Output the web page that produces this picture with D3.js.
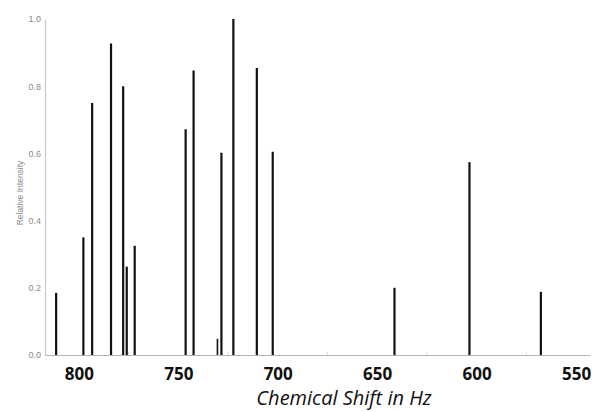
<!DOCTYPE html>
<html>
<head>
<meta charset="utf-8">
<script src="https://cdn.jsdelivr.net/npm/d3@7/dist/d3.min.js"></script>
<style>
  body { margin: 0; background: #fff; }
  svg { display: block; }
</style>
</head>
<body>
<div id="chart"></div>
<script>
// peak positions (Hz) and relative intensities
var shifts = [811.4, 797.7, 793.3, 783.8, 777.7, 775.9, 771.9, 746.3, 742.3, 730.3, 728.3, 722.3, 710.5, 702.5, 641.3, 603.6, 567.7];
var intensities = [0.185, 0.35, 0.75, 0.927, 0.80, 0.263, 0.325, 0.672, 0.847, 0.048, 0.602, 1.0, 0.854, 0.605, 0.20, 0.574, 0.188];
var xTicks = [800, 750, 700, 650, 600, 550];
var xMinorTicks = [775, 725, 675, 625, 575];
var yTicks = [0, 0.2, 0.4, 0.6, 0.8, 1.0];

var margin = {top: 19, right: 2, bottom: 57, left: 45};
var W = 592, H = 412;
var width = W - margin.left - margin.right;
var height = H - margin.top - margin.bottom;

var x = d3.scaleLinear().domain([817, 543]).range([0, width]);
var y = d3.scaleLinear().domain([0, 1]).range([height, 0]);

var svg = d3.select("#chart").append("svg")
    .attr("width", W)
    .attr("height", H)
  .append("g")
    .attr("transform", "translate(" + margin.left + "," + margin.top + ")");

// y axis - thin gray line, small gray labels
var yAxis = d3.axisLeft(y).tickValues(yTicks).tickSize(0).tickPadding(4)
    .tickFormat(d3.format(".1f"));
var gy = svg.append("g").call(yAxis);
gy.select(".domain").attr("stroke", "#c8c8c8").attr("stroke-width", 1.2);
gy.selectAll("text")
    .style("font-family", "Liberation Sans, Arial, sans-serif")
    .style("font-size", "9px")
    .attr("fill", "#8a8a8a");

// minor ticks on x
svg.append("g").selectAll("line")
    .data(xMinorTicks)
    .enter().append("line")
    .attr("x1", function(d) { return x(d); })
    .attr("x2", function(d) { return x(d); })
    .attr("y1", height)
    .attr("y2", height - 3)
    .attr("stroke", "#dcdcdc");

// x axis
var xAxis = d3.axisBottom(x).tickValues(xTicks).tickSize(0).tickPadding(13);
var gx = svg.append("g")
    .attr("transform", "translate(0," + height + ")")
    .call(xAxis);
gx.select(".domain").attr("stroke", "#b4b4b4").attr("stroke-width", 1.2);
gx.selectAll("text")
    .style("font-family", "Open Sans, Liberation Sans, sans-serif")
    .style("font-size", "17px")
    .style("font-weight", "bold")
    .attr("fill", "#111");

// stick spectrum
svg.selectAll(".peak")
    .data(shifts)
    .enter().append("line")
    .attr("class", "peak")
    .attr("x1", function(d) { return x(d); })
    .attr("x2", function(d) { return x(d); })
    .attr("y1", y(0))
    .attr("y2", function(d, i) { return y(intensities[i]); })
    .attr("stroke", "#111")
    .attr("stroke-width", function(d, i) { return intensities[i] < 0.1 ? 1.6 : 2.2; });

// axis titles
svg.append("text")
    .attr("x", 299)
    .attr("y", 386)
    .style("text-anchor", "middle")
    .style("font-family", "Open Sans, Liberation Sans, sans-serif")
    .style("font-size", "20px")
    .style("font-style", "italic")
    .attr("fill", "#111")
    .text("Chemical Shift in Hz");

svg.append("text")
    .attr("transform", "translate(-22," + 174 + ") rotate(-90)")
    .style("text-anchor", "middle")
    .style("font-family", "Liberation Sans, Arial, sans-serif")
    .style("font-size", "8.5px")
    .attr("fill", "#8a8a8a")
    .text("Relative Intensity");
</script>
</body>
</html>
